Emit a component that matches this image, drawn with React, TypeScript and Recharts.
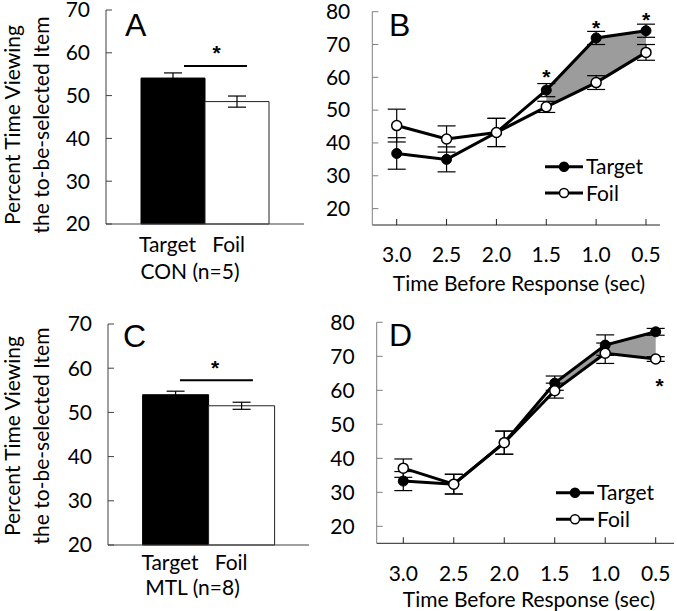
import React from "react";
import {
  Area,
  Bar,
  ComposedChart,
  Customized,
  ErrorBar,
  Line,
  ReferenceDot,
  XAxis,
  YAxis,
} from "recharts";

const FONT = "Lato, 'Open Sans', sans-serif";
const FS = 21;
const LETTER_FONT = "'Liberation Sans', Arial, sans-serif";
const AXIS_GRAY = "#7f7f7f";
const SHADE = "#9c9c9c";

// Panels A / C — mean percent viewing time
const BAR_TICKS = [20, 30, 40, 50, 60, 70];
const CON_GROUP = "CON (n=5)";
const CON_MEANS = [54.1, 48.6]; // Target, Foil
const CON_SEM = [1.2, 1.3];
const MTL_GROUP = "MTL (n=8)";
const MTL_MEANS = [54.0, 51.5];
const MTL_SEM = [0.8, 0.8];

// Panels B / D — time course before response
const TIMES = ["3.0", "2.5", "2.0", "1.5", "1.0", "0.5"];
const LINE_TICKS = [20, 30, 40, 50, 60, 70, 80];
const CON_TARGET = [36.8, 35.0, 43.2, 56.1, 72.0, 74.2];
const CON_FOIL = [45.3, 41.2, 43.2, 51.0, 58.4, 67.6];
const CON_TARGET_ERR = [4.8, 3.8, 4.3, 2.0, 2.0, 2.0];
const CON_FOIL_ERR = [5.0, 4.0, 4.3, 1.7, 2.1, 2.4];
const CON_SHADED = [false, false, false, true, true, true];
const CON_STARS = [
  { t: "1.5", y: 61.6 },
  { t: "1.0", y: 76.7 },
  { t: "0.5", y: 79.0 },
];

const MTL_TARGET = [33.3, 32.4, 44.6, 62.1, 73.3, 77.2];
const MTL_FOIL = [37.1, 32.4, 44.6, 59.9, 70.9, 69.2];
const MTL_TARGET_ERR = [2.8, 2.9, 3.4, 2.1, 3.0, 1.0];
const MTL_FOIL_ERR = [2.7, 2.9, 3.4, 2.2, 3.0, 0.7];
const MTL_SHADED = [false, false, false, true, true, true];
const MTL_STARS = [{ t: "0.5", y: 62.7 }];

const textStyle = { fontFamily: FONT, fontSize: FS, fill: "#000" };
const starStyle = { fontFamily: LETTER_FONT, fontSize: 21, fontWeight: 700, fill: "#000" };

function YTick(props: any) {
  const { x, y, payload, gap, color } = props;
  const axisX = x + gap;
  return (
    <g>
      <line x1={axisX} x2={axisX + 6} y1={y} y2={y} stroke={color} strokeWidth={1} />
      <text x={x} y={y} dy="0.35em" textAnchor="end" style={textStyle}>
        {payload.value}
      </text>
    </g>
  );
}

function TimeTick(props: any) {
  const { x, y, payload, base } = props;
  return (
    <g>
      <line x1={x} x2={x} y1={y} y2={y - 6} stroke="#222" strokeWidth={1} />
      <text x={x} y={y + base} textAnchor="middle" style={textStyle}>
        {payload.value}
      </text>
    </g>
  );
}

function GroupTick(props: any) {
  const { x, y, payload, dx1, dx2, b1, b2 } = props;
  return (
    <g>
      <text x={x + dx1} y={y + b1} textAnchor="middle" style={{ ...textStyle, whiteSpace: "pre" }}>
        {"Target\u00a0\u00a0\u00a0Foil"}
      </text>
      <text x={x + dx2} y={y + b2} textAnchor="middle" style={textStyle}>
        {payload.value}
      </text>
    </g>
  );
}

function Star(props: any) {
  const { cx, cy, dx = 0 } = props;
  return (
    <text x={cx + dx} y={cy + 12} textAnchor="middle" style={starStyle}>
      *
    </text>
  );
}

function Letter({ x, y, text }: { x: number; y: number; text: string }) {
  return (
    <text x={x} y={y} style={{ fontFamily: LETTER_FONT, fontSize: 32, fill: "#000" }}>
      {text}
    </text>
  );
}

function YTitle({ cy }: { cy: number }) {
  return (
    <g>
      <text x={20} y={cy} transform={`rotate(-90 20 ${cy})`} textAnchor="middle" style={textStyle}>
        Percent Time Viewing
      </text>
      <text x={49} y={cy} transform={`rotate(-90 49 ${cy})`} textAnchor="middle" style={textStyle}>
        the to-be-selected Item
      </text>
    </g>
  );
}

type Plot = { left: number; top: number; width: number; height: number; min: number; max: number };

// significance bar + star over the two bars, placed on the panel's own value scale
function SigMark({ plot, x1, x2, y, sx, sy }: { plot: Plot; x1: number; x2: number; y: number; sx: number; sy: number }) {
  const px = (f: number) => plot.left + f * plot.width;
  const py = (v: number) => plot.top + ((plot.max - v) / (plot.max - plot.min)) * plot.height;
  return (
    <g>
      <line x1={px(x1)} x2={px(x2)} y1={py(y)} y2={py(y)} stroke="#000" strokeWidth={2} />
      <text x={px(sx)} y={py(sy) + 12} textAnchor="middle" style={starStyle}>
        *
      </text>
    </g>
  );
}

function LegendBox({ x, y, step }: { x: number; y: number; step: number }) {
  const rows = [
    { name: "Target", fill: "#000" },
    { name: "Foil", fill: "#fff" },
  ];
  return (
    <g>
      {rows.map((r, i) => {
        const yy = y + i * step;
        return (
          <g key={r.name}>
            <line x1={x} x2={x + 38} y1={yy} y2={yy} stroke="#000" strokeWidth={3} />
            <circle cx={x + 19} cy={yy} r={4.5} fill={r.fill} stroke="#000" strokeWidth={1.5} />
            <text x={x + 41} y={yy + 7.5} style={textStyle}>
              {r.name}
            </text>
          </g>
        );
      })}
    </g>
  );
}

type Margin = { top: number; right: number; left: number; bottom: number };

type BarPanelProps = {
  left: number;
  top: number;
  width: number;
  height: number;
  margin: Margin;
  yWidth: number;
  xHeight: number;
  group: string;
  means: number[];
  sem: number[];
  gap: number;
  sig: { x1: number; x2: number; y: number; sx: number; sy: number };
  letter: { x: number; y: number; text: string };
  titleY: number;
  tick: { dx1: number; dx2: number; b1: number; b2: number };
};

function BarPanel(p: BarPanelProps) {
  const rows = [
    {
      group: p.group,
      target: p.means[0],
      foil: p.means[1],
      targetSem: p.sem[0],
      foilSem: p.sem[1],
    },
  ];
  const plot: Plot = {
    left: p.margin.left + p.yWidth,
    top: p.margin.top,
    width: p.width - p.margin.left - p.margin.right - p.yWidth,
    height: p.height - p.margin.top - p.margin.bottom - p.xHeight,
    min: BAR_TICKS[0],
    max: BAR_TICKS[BAR_TICKS.length - 1],
  };
  return (
    <div style={{ position: "absolute", left: p.left, top: p.top }}>
      <ComposedChart width={p.width} height={p.height} data={rows} margin={p.margin} barGap={0} barCategoryGap={p.gap}>
        <XAxis
          dataKey="group"
          height={p.xHeight}
          axisLine={{ stroke: "#404040" }}
          tickLine={false}
          tickSize={0}
          tickMargin={0}
          tick={(tp: any) => <GroupTick {...tp} {...p.tick} />}
        />
        <YAxis
          domain={[plot.min, plot.max]}
          ticks={BAR_TICKS}
          width={p.yWidth}
          axisLine={{ stroke: "#404040" }}
          tickLine={false}
          tickSize={0}
          tickMargin={16}
          interval={0}
          tick={(tp: any) => <YTick {...tp} gap={16} color="#404040" />}
        />
        <Bar dataKey="target" fill="#000" stroke="#000" strokeWidth={1} isAnimationActive={false}>
          <ErrorBar dataKey="targetSem" width={9} stroke="#000" strokeWidth={1.2} />
        </Bar>
        <Bar dataKey="foil" fill="#fff" stroke="#222" strokeWidth={1} isAnimationActive={false}>
          <ErrorBar dataKey="foilSem" width={9} stroke="#000" strokeWidth={1.2} />
        </Bar>
        <Customized component={<SigMark plot={plot} {...p.sig} />} />
        <Customized component={<Letter {...p.letter} />} />
        <Customized component={<YTitle cy={p.titleY} />} />
      </ComposedChart>
    </div>
  );
}

type LinePanelProps = {
  left: number;
  top: number;
  width: number;
  height: number;
  margin: Margin;
  yWidth: number;
  xHeight: number;
  pad: { left: number; right: number };
  target: number[];
  foil: number[];
  targetErr: number[];
  foilErr: number[];
  shaded: boolean[];
  stars: { t: string; y: number }[];
  starDx: number;
  letter: { x: number; y: number; text: string };
  legend: { x: number; y: number; step: number };
  tickBase: number;
  title: { x: number; y: number };
};

function LinePanel(p: LinePanelProps) {
  const rows = TIMES.map((t, i) => ({
    t,
    target: p.target[i],
    foil: p.foil[i],
    targetErr: p.targetErr[i],
    foilErr: p.foilErr[i],
    band: p.shaded[i] ? [p.foil[i], p.target[i]] : null,
  }));
  return (
    <div style={{ position: "absolute", left: p.left, top: p.top }}>
      <ComposedChart width={p.width} height={p.height} data={rows} margin={p.margin}>
        <XAxis
          dataKey="t"
          scale="point"
          padding={p.pad}
          height={p.xHeight}
          axisLine={{ stroke: "#222" }}
          tickLine={false}
          tickSize={0}
          tickMargin={0}
          interval={0}
          tick={(tp: any) => <TimeTick {...tp} base={p.tickBase} />}
        />
        <YAxis
          domain={[15, 80]}
          ticks={LINE_TICKS}
          width={p.yWidth}
          axisLine={{ stroke: AXIS_GRAY }}
          tickLine={false}
          tickSize={0}
          tickMargin={22}
          interval={0}
          tick={(tp: any) => <YTick {...tp} gap={22} color={AXIS_GRAY} />}
        />
        <Area
          dataKey="band"
          type="linear"
          fill={SHADE}
          fillOpacity={1}
          stroke="#555"
          strokeWidth={1}
          dot={false}
          activeDot={false}
          isAnimationActive={false}
        />
        <Line
          dataKey="target"
          type="linear"
          stroke="#000"
          strokeWidth={3}
          dot={{ r: 5, fill: "#000", stroke: "#000", strokeWidth: 1 }}
          activeDot={false}
          isAnimationActive={false}
        >
          <ErrorBar dataKey="targetErr" width={9} stroke="#000" strokeWidth={1.2} direction="y" />
        </Line>
        <Line
          dataKey="foil"
          type="linear"
          stroke="#000"
          strokeWidth={3}
          dot={{ r: 5, fill: "#fff", stroke: "#000", strokeWidth: 1.5 }}
          activeDot={false}
          isAnimationActive={false}
        >
          <ErrorBar dataKey="foilErr" width={9} stroke="#000" strokeWidth={1.2} direction="y" />
        </Line>
        {p.stars.map((s) => (
          <ReferenceDot key={s.t} x={s.t} y={s.y} r={0} shape={(sp: any) => <Star {...sp} dx={p.starDx} />} />
        ))}
        <Customized component={<Letter {...p.letter} />} />
        <Customized component={<LegendBox {...p.legend} />} />
        <Customized
          component={
            <text x={p.title.x} y={p.title.y} textAnchor="middle" style={textStyle}>
              Time Before Response (sec)
            </text>
          }
        />
      </ComposedChart>
    </div>
  );
}

export default function App() {
  return (
    <div
      style={{
        position: "absolute",
        left: 0,
        top: 0,
        width: 677,
        height: 611,
        background: "#fff",
        overflow: "hidden",
      }}
    >
      <BarPanel
        left={0}
        top={0}
        width={340}
        height={300}
        margin={{ top: 10, right: 36, left: 0, bottom: 0 }}
        yWidth={106}
        xHeight={76}
        group={CON_GROUP}
        means={CON_MEANS}
        sem={CON_SEM}
        gap={35}
        sig={{ x1: 0.394, x2: 0.712, y: 56.9, sx: 0.558, sy: 61.2 }}
        letter={{ x: 125, y: 36, text: "A" }}
        titleY={125}
        tick={{ dx1: -13, dx2: -15, b1: 27.5, b2: 54.5 }}
      />
      <BarPanel
        left={0}
        top={300}
        width={340}
        height={311}
        margin={{ top: 24, right: 31, left: 0, bottom: 0 }}
        yWidth={108}
        xHeight={66}
        group={MTL_GROUP}
        means={MTL_MEANS}
        sem={MTL_SEM}
        gap={34.6}
        sig={{ x1: 0.358, x2: 0.721, y: 57.3, sx: 0.533, sy: 61.2 }}
        letter={{ x: 123, y: 47, text: "C" }}
        titleY={136}
        tick={{ dx1: -14, dx2: -16, b1: 24.5, b2: 49.5 }}
      />
      <LinePanel
        left={300}
        top={0}
        width={377}
        height={300}
        margin={{ top: 11.7, right: 17, left: 0, bottom: 0 }}
        yWidth={72.3}
        xHeight={75}
        pad={{ left: 24.4, right: 14 }}
        target={CON_TARGET}
        foil={CON_FOIL}
        targetErr={CON_TARGET_ERR}
        foilErr={CON_FOIL_ERR}
        shaded={CON_SHADED}
        stars={CON_STARS}
        starDx={0}
        letter={{ x: 89, y: 36, text: "B" }}
        legend={{ x: 245, y: 166.7, step: 26.3 }}
        tickBase={36.5}
        title={{ x: 219, y: 291 }}
      />
      <LinePanel
        left={300}
        top={300}
        width={377}
        height={311}
        margin={{ top: 22.3, right: 3, left: 0, bottom: 0 }}
        yWidth={76.7}
        xHeight={67.7}
        pad={{ left: 26.6, right: 18.3 }}
        target={MTL_TARGET}
        foil={MTL_FOIL}
        targetErr={MTL_TARGET_ERR}
        foilErr={MTL_FOIL_ERR}
        shaded={MTL_SHADED}
        stars={MTL_STARS}
        starDx={4}
        letter={{ x: 89, y: 46, text: "D" }}
        legend={{ x: 256, y: 192.7, step: 26.6 }}
        tickBase={38}
        title={{ x: 229, y: 307 }}
      />
    </div>
  );
}
